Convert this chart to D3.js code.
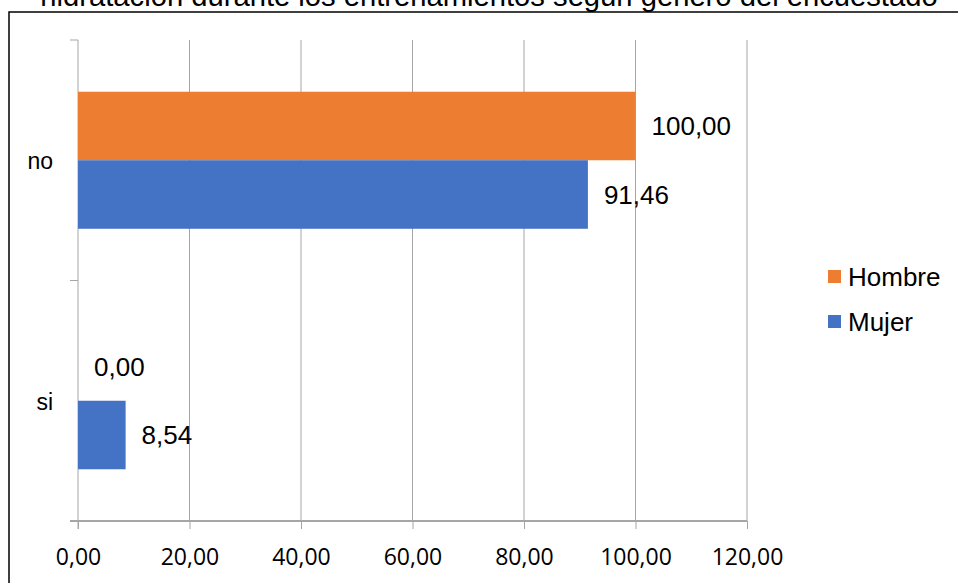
<!DOCTYPE html>
<html>
<head>
<meta charset="utf-8">
<script src="https://cdn.jsdelivr.net/npm/d3@7"></script>
<style>
  html, body { margin: 0; padding: 0; background: #fff; overflow: hidden; }
  svg { display: block; }
</style>
</head>
<body>
<svg id="chart" width="958" height="583"></svg>
<script>
const titleText = "hidratación durante los entrenamientos según género del encuestado";
const categories = ["no", "si"];
const seriesNames = ["Hombre", "Mujer"];
const hombreValues = [100.00, 0.00];
const mujerValues = [91.46, 8.54];
const xTicks = [0, 20, 40, 60, 80, 100, 120];
const colors = ["#ED7D31", "#4472C4"];

const seriesValues = [hombreValues, mujerValues];
const fmt = v => v.toFixed(2).replace(".", ",");

const svg = d3.select("#chart");
const W = 958, H = 583;
const plot = { left: 78, right: 747, top: 40, bottom: 521 };

svg.append("rect").attr("width", W).attr("height", H).attr("fill", "#fff");

// Title (partly cropped at top)
const title = svg.append("text")
  .attr("x", 489).attr("y", 6)
  .attr("text-anchor", "middle")
  .attr("font-family", "Liberation Sans, Arial, sans-serif")
  .attr("font-size", 26)
  .attr("fill", "#000")
  .text(titleText);
const tw = title.node().getComputedTextLength();
title.attr("font-size", 26 * 898 / tw);

// Frame
svg.append("path")
  .attr("d", `M9,${H + 5} L9,12 L${W + 5},12`)
  .attr("fill", "none").attr("stroke", "#000").attr("stroke-width", 1.5);

const x = d3.scaleLinear().domain([0, 120]).range([plot.left, plot.right]);
const y0 = d3.scaleBand().domain(categories).range([plot.top, plot.bottom]).padding(0);
const y1 = d3.scaleBand().domain(seriesNames).range([0, y0.bandwidth()]).paddingInner(0).paddingOuter(0.755);

const gridColor = "#a6a6a6";

// Vertical gridlines
svg.append("g").selectAll("line").data(xTicks.slice(1)).join("line")
  .attr("x1", d => x(d)).attr("x2", d => x(d))
  .attr("y1", plot.top).attr("y2", plot.bottom)
  .attr("stroke", gridColor).attr("stroke-width", 1);

// Bottom axis
const xAxis = d3.axisBottom(x).tickValues(xTicks).tickSize(8).tickFormat(fmt);
const gx = svg.append("g").attr("transform", `translate(0,${plot.bottom})`).call(xAxis);
gx.select(".domain").remove();
gx.selectAll(".tick line").attr("stroke", gridColor);
gx.selectAll(".tick text")
  .attr("y", 36).attr("dy", "0.35em")
  .attr("font-family", "Open Sans, sans-serif")
  .attr("font-size", 23).attr("fill", "#000");
svg.append("line")
  .attr("x1", plot.left - 8).attr("x2", plot.right)
  .attr("y1", plot.bottom).attr("y2", plot.bottom)
  .attr("stroke", gridColor).attr("stroke-width", 2);

// Left axis
const catTicks = [plot.top, plot.top + y0.step(), plot.bottom];
svg.append("line")
  .attr("x1", plot.left).attr("x2", plot.left)
  .attr("y1", plot.top).attr("y2", plot.bottom + 8)
  .attr("stroke", gridColor).attr("stroke-width", 1);
svg.append("g").selectAll("line").data(catTicks).join("line")
  .attr("x1", plot.left - 8).attr("x2", plot.left)
  .attr("y1", d => d).attr("y2", d => d)
  .attr("stroke", gridColor).attr("stroke-width", 1);
svg.append("g").selectAll("text").data(categories).join("text")
  .attr("x", 53)
  .attr("y", d => y0(d) + y0.bandwidth() / 2 + 1)
  .attr("dy", "0.35em")
  .attr("text-anchor", "end")
  .attr("font-family", "Liberation Sans, Arial, sans-serif")
  .attr("font-size", 23).attr("fill", "#000")
  .text(d => d);

// Bars
const barData = [];
categories.forEach((c, ci) => {
  seriesNames.forEach((s, si) => {
    barData.push({ cat: c, series: s, value: seriesValues[si][ci], color: colors[si] });
  });
});

svg.append("g").selectAll("rect").data(barData).join("rect")
  .attr("x", x(0))
  .attr("y", d => y0(d.cat) + y1(d.series))
  .attr("width", d => x(d.value) - x(0))
  .attr("height", y1.bandwidth())
  .attr("fill", d => d.color);

svg.append("g").selectAll("text").data(barData).join("text")
  .attr("x", d => x(d.value) + 16)
  .attr("y", d => y0(d.cat) + y1(d.series) + y1.bandwidth() / 2)
  .attr("dy", "0.35em")
  .attr("font-family", "Liberation Sans, Arial, sans-serif")
  .attr("font-size", 26).attr("fill", "#000")
  .text(d => fmt(d.value));

// Legend
const legend = svg.append("g").selectAll("g").data(seriesNames).join("g")
  .attr("transform", (d, i) => `translate(828,${270 + i * 45})`);
legend.append("rect").attr("width", 13).attr("height", 13)
  .attr("fill", (d, i) => colors[i]);
legend.append("text")
  .attr("x", 20).attr("y", 6.5).attr("dy", "0.35em")
  .attr("font-family", "Liberation Sans, Arial, sans-serif")
  .attr("font-size", 26).attr("fill", "#000")
  .text(d => d);
</script>
</body>
</html>
